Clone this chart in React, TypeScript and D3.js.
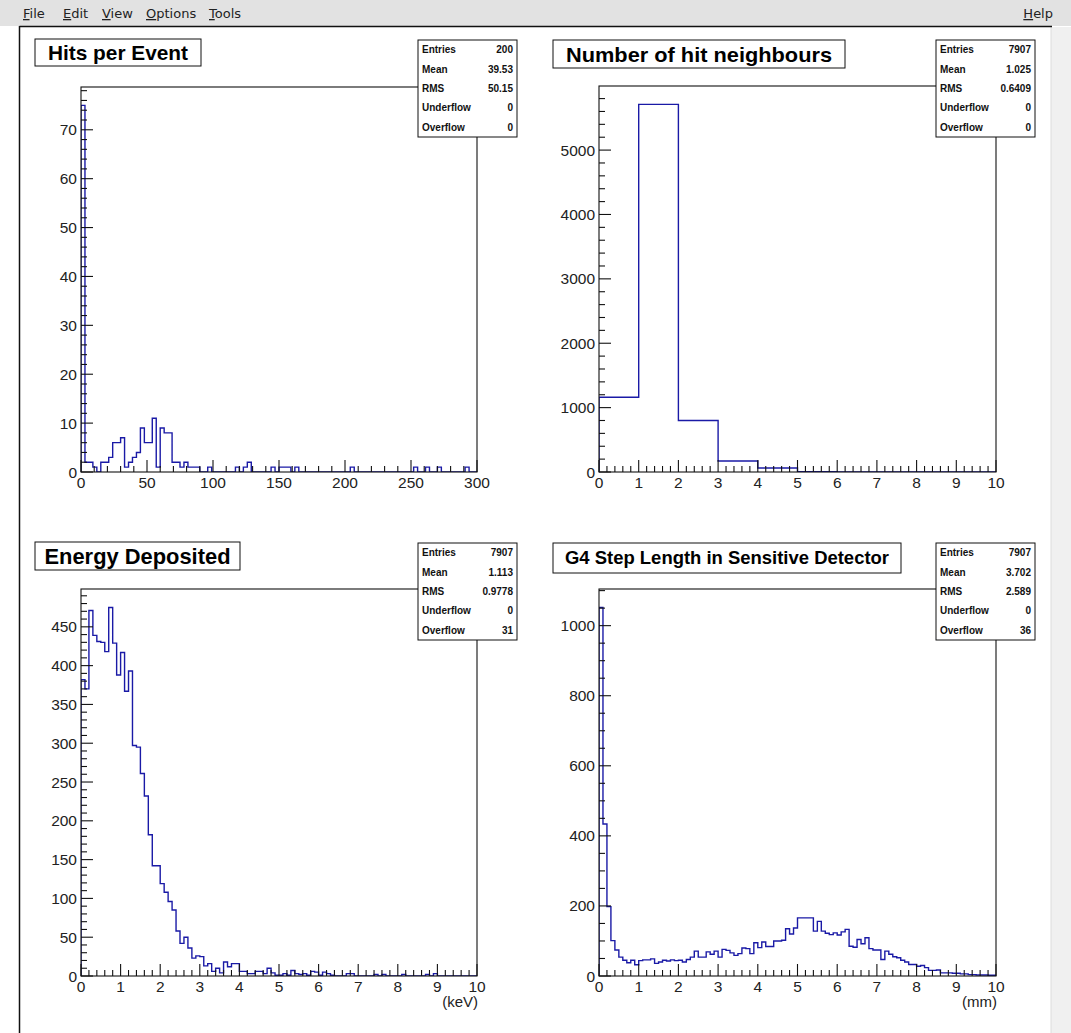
import React from "react";
import * as d3 from "d3";

// ---------------- DATA ----------------
const hitsCounts = [
  75, 2, 2, 1, 0, 2, 2, 3, 6, 6, 7, 1, 2, 3, 4, 9, 6, 6, 11, 1,
  9, 8, 8, 2, 2, 1, 2, 1, 1, 1, 0, 0, 1, 0, 0, 0, 0, 0, 0, 1,
  0, 1, 2, 0, 0, 0, 0, 0, 1, 0, 1, 1, 1, 0, 1, 0, 0, 0, 0, 0,
  0, 0, 0, 0, 0, 0, 0, 0, 1, 0, 0, 0, 0, 0, 0, 0, 0, 0, 0, 0,
  0, 0, 0, 0, 1, 0, 0, 1, 0, 0, 1, 0, 0, 0, 0, 0, 0, 1, 0, 0,
];
const neighbourCounts = [1160, 5710, 800, 170, 62, 5, 0, 0, 0, 0];
const energyCounts = [
  382, 370, 471, 439, 431, 430, 418, 475, 429, 388,
  417, 367, 393, 297, 295, 261, 232, 182, 142, 142,
  119, 108, 96, 85, 58, 42, 50, 36, 23, 26,
  25, 13, 16, 6, 10, 4, 18, 12, 16, 16,
  6, 6, 3, 3, 6, 6, 3, 10, 4, 1,
  1, 3, 1, 7, 3, 2, 3, 1, 6, 5,
  1, 5, 3, 1, 0, 0, 0, 3, 3, 0,
  0, 0, 0, 0, 2, 0, 2, 0, 0, 0,
  0, 2, 0, 0, 0, 0, 0, 2, 0, 3,
  0, 0, 0, 0, 0, 0, 0, 0, 0, 0,
];
const stepCounts = [
  1052, 434, 198, 101, 74, 54, 45, 38, 45, 32,
  44, 46, 46, 49, 36, 40, 45, 43, 46, 44,
  45, 40, 47, 54, 71, 54, 54, 69, 62, 71,
  54, 76, 73, 66, 59, 64, 80, 78, 64, 95,
  81, 97, 84, 84, 100, 100, 102, 135, 120, 137,
  166, 166, 166, 166, 128, 156, 128, 122, 118, 123,
  117, 126, 133, 85, 82, 104, 92, 109, 78, 74,
  74, 47, 71, 62, 55, 52, 45, 40, 33, 33,
  28, 30, 24, 16, 16, 17, 9, 9, 9, 8,
  8, 6, 6, 4, 4, 3, 3, 3, 2, 2,
];

const statLabels = ["Entries", "Mean", "RMS", "Underflow", "Overflow"];
const hitsStats = ["200", "39.53", "50.15", "0", "0"];
const neighbourStats = ["7907", "1.025", "0.6409", "0", "0"];
const energyStats = ["7907", "1.113", "0.9778", "0", "31"];
const stepStats = ["7907", "3.702", "2.589", "0", "36"];

const titles = [
  "Hits per Event",
  "Number of hit neighbours",
  "Energy Deposited",
  "G4 Step Length in Sensitive Detector",
];
const menuItems = ["File", "Edit", "View", "Options", "Tools"];

// ---------------- COMPONENTS ----------------
const FONT = "'Liberation Sans', Arial, Helvetica, sans-serif";
const LINE = "#1a1aa6";

type PadProps = {
  counts: number[];
  xmin: number;
  xmax: number;
  fx0: number; fx1: number; fy0: number; fy1: number;
  xMajor: number; xMinor: number; yMajor: number; yMinor: number;
  title: string;
  tb: [number, number, number, number];
  titleSize: number;
  titleLen: number;
  stats: string[];
  sb: [number, number, number, number];
  xTitle?: string;
};

function Pad(p: PadProps) {
  const ymax = (d3.max(p.counts) as number) * 1.05;
  const x = d3.scaleLinear().domain([p.xmin, p.xmax]).range([p.fx0, p.fx1]);
  const y = d3.scaleLinear().domain([0, ymax]).range([p.fy1, p.fy0]);
  const n = p.counts.length;
  const bw = (p.xmax - p.xmin) / n;
  const pts: [number, number][] = [[x(p.xmin), y(0)]];
  p.counts.forEach((c, i) => {
    pts.push([x(p.xmin + i * bw), y(c)]);
    pts.push([x(p.xmin + (i + 1) * bw), y(c)]);
  });
  pts.push([x(p.xmax), y(0)]);
  const path = d3.line()(pts) as string;

  const eps = 1e-6;
  const xt = d3.range(p.xmin, p.xmax + eps, p.xMinor);
  const yt = d3.range(0, ymax + eps, p.yMinor);
  const isMaj = (v: number, m: number) => Math.abs(v / m - Math.round(v / m)) < 1e-6;
  const [sx, sy, sw, sh] = p.sb;
  const [tx, ty, tw, th] = p.tb;
  const rowH = sh / 5;
  const clipId = "clip" + p.fx0 + "_" + p.fy0;
  return (
    <g>
      <defs>
        <clipPath id={clipId}>
          <rect x={p.fx0} y={p.fy0} width={p.fx1 - p.fx0} height={p.fy1 - p.fy0} />
        </clipPath>
      </defs>
      <path d={path} fill="none" stroke={LINE} strokeWidth={1.4} clipPath={`url(#${clipId})`} />
      {/* frame */}
      <rect x={p.fx0} y={p.fy0} width={p.fx1 - p.fx0} height={p.fy1 - p.fy0} fill="none" stroke="#111" strokeWidth={1.1} />
      {/* x ticks */}
      {xt.map((v, i) => {
        const maj = isMaj(v - p.xmin, p.xMajor);
        return (
          <line key={"xt" + i} x1={x(v)} x2={x(v)} y1={p.fy1} y2={p.fy1 - (maj ? 12 : 6)} stroke="#111" strokeWidth={1.1} />
        );
      })}
      {xt.filter((v) => isMaj(v - p.xmin, p.xMajor)).map((v, i) => (
        <text key={"xl" + i} x={x(v)} y={p.fy1 + 16} fontSize={15.5} textAnchor="middle" fill="#222" fontFamily={FONT}>
          {d3.format("d")(v)}
        </text>
      ))}
      {/* y ticks */}
      {yt.map((v, i) => {
        const maj = isMaj(v, p.yMajor);
        return (
          <line key={"yt" + i} x1={p.fx0} x2={p.fx0 + (maj ? 12 : 6)} y1={y(v)} y2={y(v)} stroke="#111" strokeWidth={1.1} />
        );
      })}
      {yt.filter((v) => isMaj(v, p.yMajor)).map((v, i) => (
        <text key={"yl" + i} x={p.fx0 - 4} y={y(v) + 5.5} fontSize={15.5} textAnchor="end" fill="#222" fontFamily={FONT}>
          {d3.format("d")(v)}
        </text>
      ))}
      {p.xTitle && (
        <text x={p.fx1 + 1} y={p.fy1 + 31} fontSize={15} textAnchor="end" fill="#222" fontFamily={FONT}>
          {p.xTitle}
        </text>
      )}
      {/* stats box */}
      <rect x={sx} y={sy} width={sw} height={sh} fill="#fff" stroke="#111" strokeWidth={1} />
      {statLabels.map((lab, i) => (
        <g key={"st" + i}>
          <text x={sx + 4} y={sy + rowH * (i + 0.5) + 3.5} fontSize={10} fontWeight="bold" fill="#111" fontFamily={FONT}>
            {lab}
          </text>
          <text x={sx + sw - 4} y={sy + rowH * (i + 0.5) + 3.5} fontSize={10} fontWeight="bold" fill="#111" textAnchor="end" fontFamily={FONT}>
            {p.stats[i]}
          </text>
        </g>
      ))}
      {/* title box */}
      <rect x={tx} y={ty} width={tw} height={th} fill="#fff" stroke="#111" strokeWidth={1} />
      <text
        x={tx + tw / 2}
        y={ty + th / 2 + p.titleSize * 0.36}
        fontSize={p.titleSize}
        fontWeight="bold"
        textAnchor="middle"
        fill="#000"
        fontFamily={FONT}
        textLength={p.titleLen}
        lengthAdjust="spacingAndGlyphs"
      >
        {p.title}
      </text>
    </g>
  );
}

export default function App() {
  const menuX = [23, 63, 102, 146, 209];
  return (
    <div style={{ position: "absolute", left: 0, top: 0 }}>
      <svg width={1071} height={1033} style={{ display: "block", background: "#fff" }}>
        {/* window chrome */}
        <rect x={0} y={0} width={1071} height={26} fill="#e2e2e2" />
        {menuItems.map((m, i) => (
          <text key={m} x={menuX[i]} y={18} fontSize={13} fill="#222" fontFamily="'DejaVu Sans', sans-serif">
            <tspan textDecoration="underline">{m[0]}</tspan>
            {m.slice(1)}
          </text>
        ))}
        <text x={1053} y={18} fontSize={13} fill="#222" textAnchor="end" fontFamily="'DejaVu Sans', sans-serif">
          <tspan textDecoration="underline">H</tspan>elp
        </text>
        <rect x={1051} y={27} width={20} height={1006} fill="#f0f0f0" />
        <line x1={1051} x2={1051} y1={27} y2={1033} stroke="#dcdcdc" />
        <line x1={19.5} x2={1052} y1={26.5} y2={26.5} stroke="#111" strokeWidth={1.5} />
        <line x1={19.5} x2={19.5} y1={26} y2={1033} stroke="#111" strokeWidth={1.5} />

        <Pad
          counts={hitsCounts} xmin={0} xmax={300}
          fx0={81} fx1={477} fy0={87} fy1={472}
          xMajor={50} xMinor={10} yMajor={10} yMinor={2}
          title={titles[0]} tb={[35, 39, 166, 27]} titleSize={20.5} titleLen={140}
          stats={hitsStats} sb={[418, 40, 99, 97]}
        />
        <Pad
          counts={neighbourCounts} xmin={0} xmax={10}
          fx0={599} fx1={996} fy0={86} fy1={472}
          xMajor={1} xMinor={0.2} yMajor={1000} yMinor={200}
          title={titles[1]} tb={[553, 40, 292, 28]} titleSize={21} titleLen={266}
          stats={neighbourStats} sb={[936, 40, 99, 97]}
        />
        <Pad
          counts={energyCounts} xmin={0} xmax={10}
          fx0={81} fx1={477} fy0={589} fy1={976}
          xMajor={1} xMinor={0.2} yMajor={50} yMinor={10}
          title={titles[2]} tb={[35, 542, 205, 28]} titleSize={21.5} titleLen={186}
          stats={energyStats} sb={[418, 543, 99, 97]} xTitle="(keV)"
        />
        <Pad
          counts={stepCounts} xmin={0} xmax={10}
          fx0={599} fx1={996} fy0={589} fy1={976}
          xMajor={1} xMinor={0.2} yMajor={200} yMinor={50}
          title={titles[3]} tb={[553, 543, 348, 30]} titleSize={18} titleLen={324}
          stats={stepStats} sb={[936, 543, 99, 97]} xTitle="(mm)"
        />
      </svg>
    </div>
  );
}
